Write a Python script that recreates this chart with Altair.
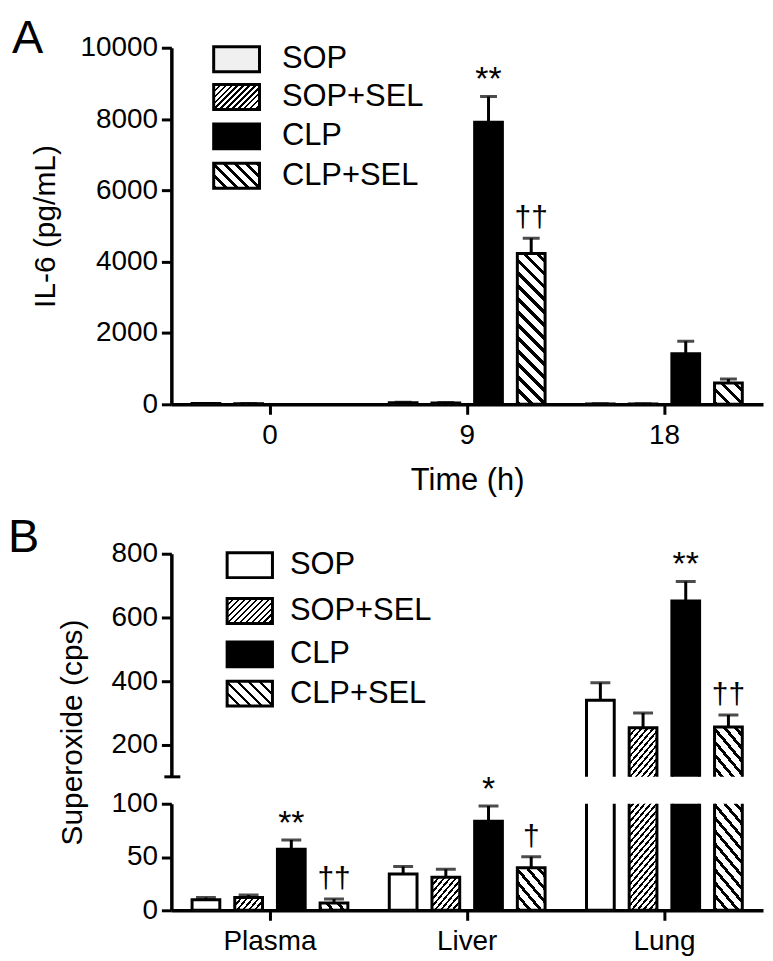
import altair as alt
import numpy as np
import pandas as pd

# ---------------- data ----------------
groups = ["SOP", "SOP+SEL", "CLP", "CLP+SEL"]

# Panel A: IL-6 (pg/mL) over time
times = ["0", "9", "18"]
il6_sop = [20, 45, 10]
il6_sop_err = [6, 12, 4]
il6_sopsel = [18, 40, 12]
il6_sopsel_err = [6, 10, 4]
il6_clp = [None, 7910, 1415]
il6_clp_err = [None, 725, 355]
il6_clpsel = [None, 4230, 597]
il6_clpsel_err = [None, 430, 112]
il6_sig_sop = ["", "", ""]
il6_sig_sopsel = ["", "", ""]
il6_sig_clp = ["", "**", ""]
il6_sig_clpsel = ["", "††", ""]

# Panel B: superoxide (cps) by tissue
tissues = ["Plasma", "Liver", "Lung"]
so_sop = [10.0, 34.0, 340.0]
so_sop_err = [2.0, 7.0, 55.0]
so_sopsel = [12.0, 31.0, 254.0]
so_sopsel_err = [2.3, 7.5, 46.0]
so_clp = [57.3, 83.5, 652.0]
so_clp_err = [8.7, 14.3, 61.0]
so_clpsel = [6.9, 40.0, 256.0]
so_clpsel_err = [3.7, 10.3, 38.0]
so_sig_sop = ["", "", ""]
so_sig_sopsel = ["", "", ""]
so_sig_clp = ["**", "*", "**"]
so_sig_clpsel = ["††", "†", "††"]


def build(cats, series, errs, sigs):
    rows = []
    for g, vals, es, ss in zip(groups, series, errs, sigs):
        for c, v, e, s in zip(cats, vals, es, ss):
            if v is None:
                continue
            rows.append(dict(cat=c, group=g, mean=v, err=e, top=v + e, sig=s))
    return pd.DataFrame(rows)


df_a = build(times, [il6_sop, il6_sopsel, il6_clp, il6_clpsel],
             [il6_sop_err, il6_sopsel_err, il6_clp_err, il6_clpsel_err],
             [il6_sig_sop, il6_sig_sopsel, il6_sig_clp, il6_sig_clpsel])
df_b = build(tissues, [so_sop, so_sopsel, so_clp, so_clpsel],
             [so_sop_err, so_sopsel_err, so_clp_err, so_clpsel_err],
             [so_sig_sop, so_sig_sopsel, so_sig_clp, so_sig_clpsel])

# ---------------- style / layout ----------------
FONT = "Liberation Sans"
W = 594
PI, PO = 0.21, 0.105
one = pd.DataFrame({"k": [0]})


def sub_bandwidth(p2):
    step = W / (3 - PI + 2 * PO)
    bw = step * (1 - PI)
    step2 = bw / (4 - p2)
    return step2 * (1 - p2)


def hatch(w, h, period, frac, forward):
    L = w + h
    k = L / (w * w + h * h)
    if forward:   # "/" lines
        x1, y1, x2, y2 = 0, 0, k * w, k * h
    else:         # "\" lines
        x1, y1, x2, y2 = 0, 1, k * w, 1 - k * h
    stops = []
    i = 0
    while i * period < L:
        a = i * period / L
        b = min((i * period + frac * period) / L, 1.0)
        stops += [(a, "white"), (a, "black"), (b, "black"), (b, "white")]
        i += 1
    return alt.LinearGradient(
        gradient="linear",
        stops=[alt.GradientStop(offset=float(o), color=c) for o, c in stops],
        x1=x1, y1=y1, x2=float(x2), y2=float(y2))


HATCH = {"SOP+SEL": (7, 0.4, True), "CLP+SEL": (13, 0.35, False)}


def data_layers(df, cats, ydom, height, yaxis, xaxis, p2, sop_fill, cap,
                cat_filter=None):
    xenc = alt.X("cat:N", scale=alt.Scale(domain=cats, paddingInner=PI, paddingOuter=PO),
                 axis=xaxis)
    xo = alt.XOffset("group:N", scale=alt.Scale(domain=groups, paddingInner=p2, paddingOuter=0))
    ysc = alt.Scale(domain=ydom, nice=False, zero=False)

    def Y(f):
        return alt.Y(f + ":Q", scale=ysc, axis=yaxis)

    if cat_filter:
        df = df[df["cat"].isin(cat_filter)].reset_index(drop=True)
    base = alt.Chart(df)
    w = sub_bandwidth(p2)
    pxu = height / (ydom[1] - ydom[0])
    layers = []
    layers.append(base.mark_rule(color="black", strokeWidth=3, clip=True).encode(
        x=xenc, xOffset=xo, y=Y("mean"), y2=alt.Y2("top:Q")))
    layers.append(base.mark_tick(color="black", thickness=3, size=cap, clip=True,
                                 orient="horizontal").encode(x=xenc, xOffset=xo, y=Y("top")))
    layers.append(base.transform_filter("datum.group == 'SOP' || datum.group == 'CLP'")
                  .mark_bar(stroke="black", strokeWidth=3, clip=True)
                  .encode(x=xenc, xOffset=xo, y=Y("mean"), y2=alt.datum(0),
                          fill=alt.condition("datum.group == 'CLP'", alt.value("black"),
                                             alt.value(sop_fill))))
    for g, (period, frac, fwd) in HATCH.items():
        for _, r in df[df["group"] == g].iterrows():
            grad = hatch(w, r["mean"] * pxu, period, frac, fwd)
            layers.append(base.transform_filter(
                f"datum.group == '{g}' && datum.cat == '{r['cat']}'")
                .mark_bar(fill=grad, stroke="black", strokeWidth=3, clip=True)
                .encode(x=xenc, xOffset=xo, y=Y("mean"), y2=alt.datum(0)))
    layers.append(base.transform_filter("indexof(datum.sig, '*') >= 0")
                  .mark_text(font=FONT, fontSize=34, dy=-6, baseline="alphabetic",
                             color="black")
                  .encode(x=xenc, xOffset=xo, y=Y("top"), text="sig:N"))
    layers.append(base.transform_filter("indexof(datum.sig, '†') >= 0")
                  .mark_text(font=FONT, fontSize=30, dy=-11, baseline="alphabetic",
                             color="black")
                  .encode(x=xenc, xOffset=xo, y=Y("top"), text="sig:N"))
    return layers, ysc


def legend_layers(x0, x1, tops, h, label_x, sop_fill):
    out = []
    for g, top in zip(groups, tops):
        if g == "SOP":
            fill = sop_fill
        elif g == "CLP":
            fill = "black"
        else:
            period, frac, fwd = HATCH[g]
            fill = hatch(x1 - x0, h, period * 0.85, frac, fwd)
        out.append(alt.Chart(one).mark_rect(fill=fill, stroke="black", strokeWidth=3).encode(
            x=alt.value(x0), x2=alt.value(x1), y=alt.value(top), y2=alt.value(top + h)))
        out.append(alt.Chart(one).mark_text(text=g, font=FONT, fontSize=31, align="left",
                                            baseline="middle", color="black").encode(
            x=alt.value(label_x), y=alt.value(top + h / 2)))
    return out


def letter(t, x, y):
    return alt.Chart(one).mark_text(text=t, font=FONT, fontSize=47, align="left",
                                    baseline="alphabetic", color="black").encode(
        x=alt.value(x), y=alt.value(y))


# ---------------- panel A ----------------
HA = 358
ya = alt.Axis(values=[0, 2000, 4000, 6000, 8000, 10000], format="d", title="IL-6 (pg/mL)",
              titlePadding=19, titleFontSize=30, labelPadding=4)
xa = alt.Axis(title="Time (h)", labelAngle=0, labelPadding=7, titlePadding=17,
              titleFontSize=31)
la, _ = data_layers(df_a, times, [0, 10000], HA, ya, xa, 0.35, "#f0f0f0", 17)
la += legend_layers(42.5, 88.5, [-1, 37, 76.5, 116], 25, 111, "#f0f0f0")
la.append(letter("A", -160, 5))
panel_a = alt.layer(*la).properties(width=W, height=HA)

# ---------------- panel B (broken axis) ----------------
HU, HL = 224, 107
yu = alt.Axis(values=[200, 400, 600, 800], format="d", title="Superoxide (cps)",
              titleY=179, titlePadding=23, titleFontSize=30, labelPadding=4)
lu, ysc_u = data_layers(df_b, tissues, [100, 800], HU, yu, None, 0.195, "white", 20,
                        cat_filter=["Lung"])
lu.append(alt.Chart(one).mark_rule(color="black", strokeWidth=3).encode(
    x=alt.value(-7), x2=alt.value(9), y=alt.YDatum(datum=100, scale=ysc_u, axis=yu)))
lu += legend_layers(56, 101.5, [-1, 45, 88.5, 128], 25, 119, "white")
lu.append(letter("B", -164, -2))
panel_bu = alt.layer(*lu).properties(width=W, height=HU)

yl = alt.Axis(values=[0, 50, 100], format="d", title=None, labelPadding=4)
xl = alt.Axis(title=None, labelAngle=0, labelPadding=7)
ll, _ = data_layers(df_b, tissues, [0, 100], HL, yl, xl, 0.195, "white", 20,
                    cat_filter=["Plasma", "Liver"])
# lung bars also continue below the break
ll_lung, _ = data_layers(df_b, tissues, [0, 100], HL, yl, xl, 0.195, "white", 20,
                         cat_filter=["Lung"])
ll += [lyr for lyr in ll_lung[2:-2]]
panel_bl = alt.layer(*ll).properties(width=W, height=HL)

panel_b = alt.vconcat(panel_bu, panel_bl, spacing=27, bounds="flush")

chart = (
    alt.vconcat(panel_a, panel_b, spacing=150, bounds="flush")
    .properties(padding={"left": 0, "top": 5, "right": 2, "bottom": 2})
    .configure_axis(domainColor="black", domainWidth=3.5, tickColor="black", tickWidth=3,
                    tickSize=10, labelColor="black", titleColor="black", labelFont=FONT,
                    titleFont=FONT, labelFontSize=28, titleFontWeight="normal", grid=False)
    .configure_view(stroke=None)
)

chart.save("out.html", embed_options={"renderer": "svg", "actions": False})
